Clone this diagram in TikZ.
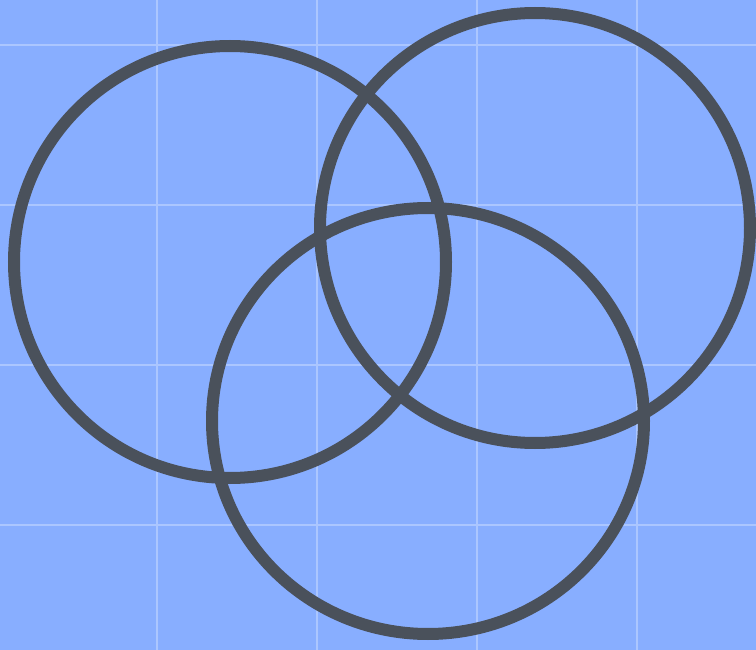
\documentclass[tikz,border=0pt]{standalone}
\definecolor{bgblue}{HTML}{88AEFF}
\definecolor{gridblue}{HTML}{ABC6FF}
\definecolor{ringgray}{HTML}{4A515B}
\begin{document}
\begin{tikzpicture}[x=1pt,y=-1pt,
  ring/.style={draw=ringgray,line width=12pt},
  gridline/.style={draw=gridblue,line width=2.5pt}]
\fill[bgblue] (0,0) rectangle (756,650);
\useasboundingbox (0,0) rectangle (756,650);
\foreach \gx in {157,317,477,637} {\draw[gridline] (\gx,0) -- (\gx,650);}
\foreach \gy in {45,205,365,525} {\draw[gridline] (0,\gy) -- (756,\gy);}
\draw[ring] (230,262) circle[radius=216];
\draw[ring] (535,228) circle[radius=215];
\draw[ring] (428,421) ellipse[x radius=216,y radius=213];
\end{tikzpicture}
\end{document}
